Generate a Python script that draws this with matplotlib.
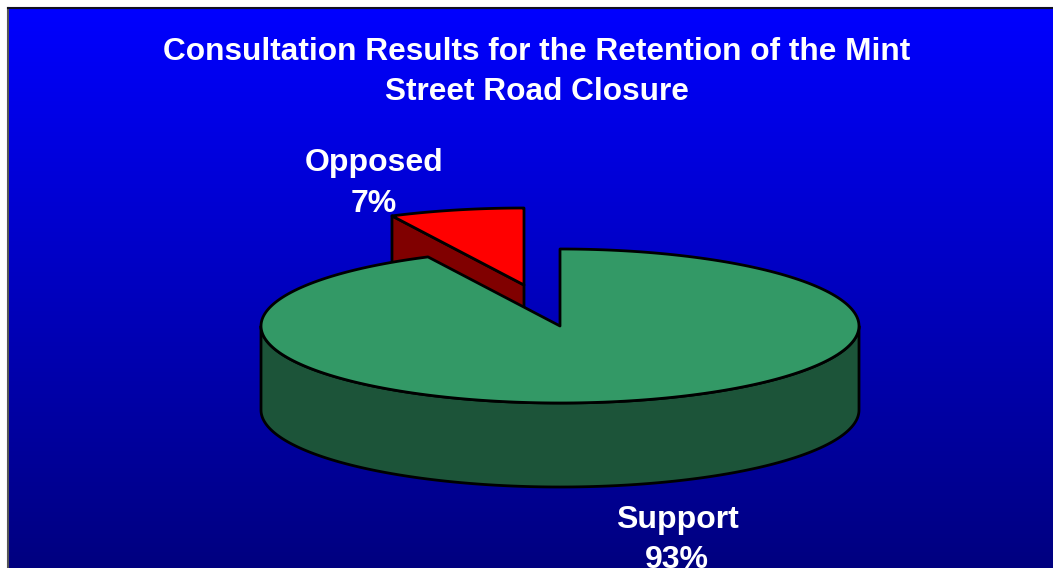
import matplotlib
matplotlib.use('Agg')
import matplotlib.pyplot as plt
from matplotlib.patches import Polygon
import numpy as np

title = 'Consultation Results for the Retention of the Mint\nStreet Road Closure'
labels = ['Support', 'Opposed']
values = [93, 7]
top_colors = ['#339966', '#ff0000']
side_colors = ['#1c5439', '#800000']

W, H = 1053, 568
plt.rcParams['font.family'] = ['Liberation Sans', 'DejaVu Sans']

fig = plt.figure(figsize=(W / 100, H / 100), dpi=100, facecolor='white')
ax = fig.add_axes([0, 0, 1, 1])
ax.set_xlim(0, W)
ax.set_ylim(H, 0)
ax.axis('off')

# background gradient, blue at the top and navy at the bottom
grad = np.zeros((256, 1, 3))
grad[:, 0, 2] = np.linspace(1.0, 0.5, 256)
ax.imshow(grad, extent=(8, W, H, 8), aspect='auto', zorder=0)
ax.plot([8, 8], [H, 8], color='#555555', lw=1.5, zorder=1)
ax.plot([8, W], [8, 8], color='#111122', lw=1.5, zorder=1)
ax.set_xlim(0, W)
ax.set_ylim(H, 0)

cx, cy, rx, ry, depth = 560, 326, 299, 77, 84
off_x, off_y = -36, -41
tilt_shift = 1.0  # the tilted pie draws the small slice a touch wider


def rim(a0, a1, dx=0, dy=0):
    # clock angles in degrees, 0 at twelve o'clock, going clockwise
    t = np.radians(np.linspace(a0, a1, 240))
    return np.column_stack([cx + dx + rx * np.sin(t), cy + dy - ry * np.cos(t)])


total = sum(values)
support_end = 360 * values[0] / total - tilt_shift

# exploded slice: its walls first, the big slice covers the lower part
sl = rim(support_end, 360, off_x, off_y)
apex = np.array([cx + off_x, cy + off_y])
wall = np.array([sl[0], apex, apex + [0, depth], sl[0] + [0, depth]])
ax.add_patch(Polygon(wall, fc=side_colors[1], ec='black', lw=2, joinstyle='round', zorder=3))
ax.add_patch(Polygon(np.vstack([apex, sl]), fc=top_colors[1], ec='black', lw=2, joinstyle='round', zorder=4))

# big slice: outer wall of the front half, then the top
front = rim(90, 270)
ax.add_patch(Polygon(np.vstack([front, (front + [0, depth])[::-1]]), fc=side_colors[0], ec='black',
                     lw=2, joinstyle='round', zorder=5))
top = rim(0, support_end)
ax.add_patch(Polygon(np.vstack([[cx, cy], top]), fc=top_colors[0], ec='black', lw=2, joinstyle='round', zorder=6))

ax.text(537, 72, title, color='white', fontsize=22.8, fontweight='bold', ha='center', va='center',
        linespacing=1.45, zorder=8)
ax.text(374, 183.5, '%s\n%d%%' % (labels[1], values[1]), color='white', fontsize=23, fontweight='bold',
        ha='center', va='center', linespacing=1.48, zorder=8)
ax.text(677, 540, '%s\n%d%%' % (labels[0], values[0]), color='white', fontsize=23, fontweight='bold',
        ha='center', va='center', linespacing=1.4, zorder=8)

fig.savefig('out.png', dpi=100)
